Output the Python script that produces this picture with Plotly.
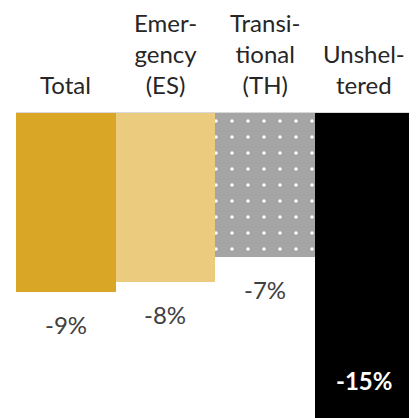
import plotly.graph_objects as go

categories = ["Total", "Emer-<br>gency<br>(ES)", "Transi-<br>tional<br>(TH)", "Unshel-<br>tered"]
values = [-8.9, -8.4, -7.2, -15.4]
colors = ["#DAA625", "#EBCB7D", "#A5A5A5", "#000000"]
y_range = [-15.2, 0]

labels = [f"{round(v):.0f}%" for v in values]
xkeys = ["c0", "c1", "c2", "c3"]

patterns = [
    dict(shape=""),
    dict(shape=""),
    dict(shape=".", fgcolor="#FFFFFF", bgcolor="#A5A5A5", size=16, solidity=0.035, fillmode="replace"),
    dict(shape=""),
]

fig = go.Figure()
for k, v, c, p in zip(xkeys, values, colors, patterns):
    fig.add_trace(go.Bar(x=[k], y=[v], marker=dict(color=c, line=dict(width=0), pattern=p),
                         showlegend=False, hoverinfo="skip"))

FONT = "Lato, Carlito, Calibri, sans-serif"
ann = []
for k, cat in zip(xkeys, categories):
    ann.append(dict(x=k, y=1, xref="x", yref="paper", yanchor="bottom", xanchor="center",
                    yshift=12, text=cat, showarrow=False,
                    font=dict(family=FONT, size=24, color="#262626")))
for i, (k, v, lab) in enumerate(zip(xkeys, values, labels)):
    if v < y_range[0]:
        ann.append(dict(x=k, y=0, xref="x", yref="paper", yanchor="middle", xanchor="center",
                        yshift=38, text=f"<b>{lab}</b>", showarrow=False,
                        font=dict(family=FONT, size=24, color="#FFFFFF")))
    else:
        ann.append(dict(x=k, y=v, xref="x", yref="y", yanchor="top", xanchor="center",
                        yshift=-16, text=lab, showarrow=False,
                        font=dict(family=FONT, size=24, color="#404040")))

fig.update_layout(
    width=417, height=418,
    margin=dict(l=8, r=11, t=105, b=8),
    paper_bgcolor="white", plot_bgcolor="white",
    bargap=0, barmode="group",
    annotations=ann,
    xaxis=dict(showticklabels=False, showgrid=False, zeroline=False, showline=False, ticks=""),
    yaxis=dict(range=y_range, showticklabels=False, showgrid=False, zeroline=True,
               zerolinecolor="#D9D9D9", zerolinewidth=2, showline=False, ticks=""),
)
fig.write_html("out.html")
